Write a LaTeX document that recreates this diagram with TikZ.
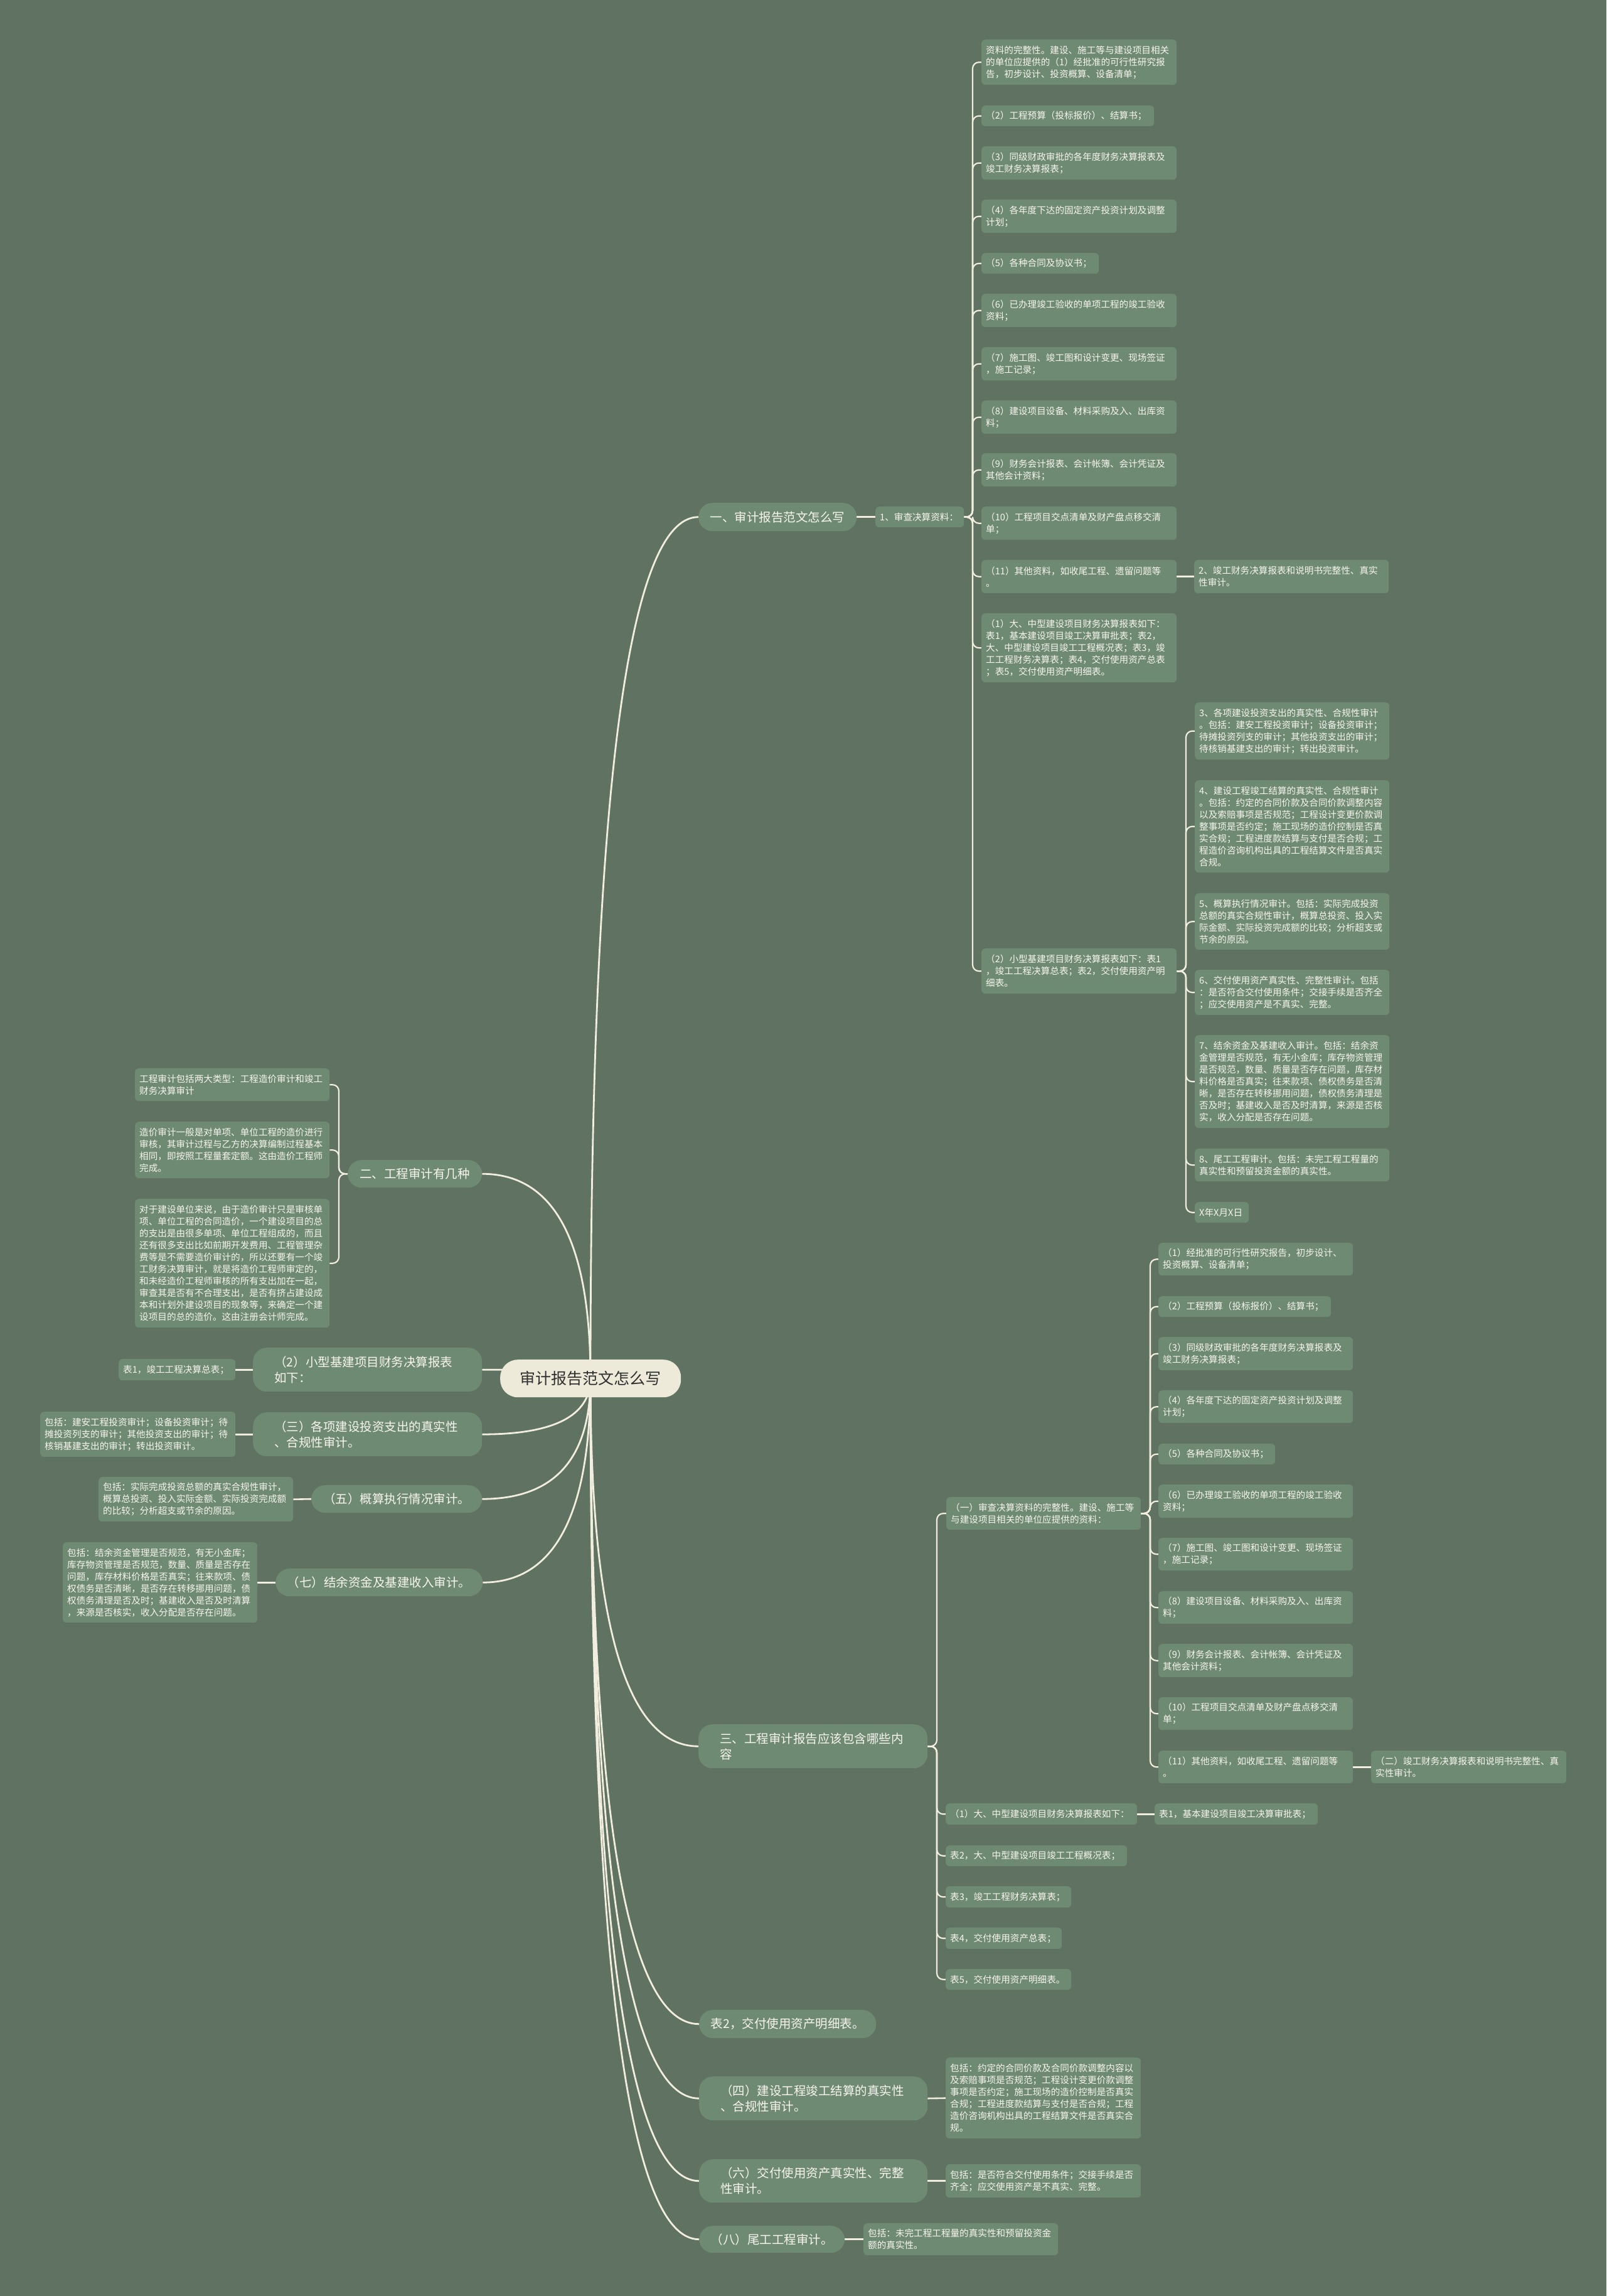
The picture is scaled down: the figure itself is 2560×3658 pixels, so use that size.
\documentclass[tikz,border=0pt]{standalone}
\usepackage{fontspec}
\newfontfamily\cjk{Noto Sans CJK SC}
\usetikzlibrary{calc}
\definecolor{bgc}{HTML}{607262}
\definecolor{ndc}{HTML}{6E8A73}
\definecolor{lnc}{HTML}{F1EEDF}
\definecolor{txc}{HTML}{F7F5EE}
\definecolor{rtc}{HTML}{EEEADA}
\definecolor{rtx}{HTML}{2F2F2F}
\pgfdeclarelayer{bglayer}
\pgfdeclarelayer{edgelayer}
\pgfsetlayers{bglayer,edgelayer,main}
\newcommand\fsS{\cjk\fontsize{14.6}{19}\selectfont}
\newcommand\fsB{\cjk\fontsize{19.5}{25}\selectfont}
\newcommand\fsR{\cjk\fontsize{25}{30}\selectfont}
\newcommand\rlink[1]{\draw[rootln] let \p1=(r0), \p2=(#1) in (\p1) .. controls (\x1,{\y1*0.3333+\y2*0.6667}) and ({\x2*0.3333+\x1*0.6667},\y2) .. (\p2);}
\newcommand\brR[3]{\draw[subln] (#1.east) -| (#2 |- #3.west) -- (#3.west);}
\newcommand\brL[3]{\draw[subln] (#1.west) -| (#2 |- #3.east) -- (#3.east);}
\tikzset{
  sm/.style={fill=ndc, text=txc, rounded corners=6pt, font=\fsS, align=left, inner xsep=7pt, inner ysep=0pt, anchor=north west},
  bigl/.style={fill=ndc, text=txc, rounded corners=22pt, font=\fsB, align=left, inner xsep=34pt, inner ysep=0pt, anchor=north west},
  bigc/.style={fill=ndc, text=txc, rounded corners=22pt, font=\fsB, align=center, inner sep=0pt, anchor=north west},
  rootn/.style={fill=rtc, text=rtx, rounded corners=28pt, font=\fsR, align=center, inner sep=0pt, anchor=north west},
  rootln/.style={draw=lnc, line width=2.8pt},
  subln/.style={draw=lnc, line width=2.2pt, rounded corners=10pt},
  stln/.style={draw=lnc, line width=2.6pt}
}
\begin{document}
\begin{tikzpicture}[x=1pt,y=-1pt]
\begin{pgfonlayer}{bglayer}
\fill[bgc] (0,0) rectangle (2560,3658);
\end{pgfonlayer}
\useasboundingbox (0,0) rectangle (2560,3658);

% root
\node[rootn, minimum width=288pt, minimum height=60pt] (root) at (797,2166) {审计报告范文怎么写};
\coordinate (r0) at (941,2196);

% branch one
\node[bigc, minimum width=252pt, minimum height=45pt] (n1) at (1113,801) {一、审计报告范文怎么写};
\node[sm, text width=127pt, minimum height=33pt] (s1) at (1395,807) {1、审查决算资料：};
\coordinate (sA) at (1550,0);
\node[sm, text width=297pt, minimum height=72pt] (A1) at (1564,63) {资料的完整性。建设、施工等与建设项目相关\\的单位应提供的（1）经批准的可行性研究报\\告，初步设计、投资概算、设备清单；};
\node[sm, text width=261pt, minimum height=33pt] (A2) at (1564,168) {（2）工程预算（投标报价）、结算书；};
\node[sm, text width=297pt, minimum height=53pt] (A3) at (1564,233) {（3）同级财政审批的各年度财务决算报表及\\竣工财务决算报表；};
\node[sm, text width=297pt, minimum height=53pt] (A4) at (1564,318) {（4）各年度下达的固定资产投资计划及调整\\计划；};
\node[sm, text width=173pt, minimum height=33pt] (A5) at (1564,403) {（5）各种合同及协议书；};
\node[sm, text width=297pt, minimum height=53pt] (A6) at (1564,468) {（6）已办理竣工验收的单项工程的竣工验收\\资料；};
\node[sm, text width=297pt, minimum height=53pt] (A7) at (1564,553) {（7）施工图、竣工图和设计变更、现场签证\\，施工记录；};
\node[sm, text width=297pt, minimum height=53pt] (A8) at (1564,638) {（8）建设项目设备、材料采购及入、出库资\\料；};
\node[sm, text width=297pt, minimum height=53pt] (A9) at (1564,722) {（9）财务会计报表、会计帐簿、会计凭证及\\其他会计资料；};
\node[sm, text width=297pt, minimum height=53pt] (A10) at (1564,807) {（10）工程项目交点清单及财产盘点移交清\\单；};
\node[sm, text width=297pt, minimum height=53pt] (A11) at (1564,892) {（11）其他资料，如收尾工程、遗留问题等\\。};
\node[sm, text width=296pt, minimum height=53pt] (A11b) at (1903,892) {2、竣工财务决算报表和说明书完整性、真实\\性审计。};
\node[sm, text width=297pt, minimum height=110pt] (A12) at (1564,977) {（1）大、中型建设项目财务决算报表如下：\\表1，基本建设项目竣工决算审批表；表2，\\大、中型建设项目竣工工程概况表；表3，竣\\工工程财务决算表；表4，交付使用资产总表\\；表5，交付使用资产明细表。};
\node[sm, text width=297pt, minimum height=72pt] (A13) at (1564,1511) {（2）小型基建项目财务决算报表如下：表1\\，竣工工程决算总表；表2，交付使用资产明\\细表。};
\coordinate (sB) at (1890,0);
\node[sm, text width=296pt, minimum height=91pt] (B3) at (1904,1119) {3、各项建设投资支出的真实性、合规性审计\\。包括：建安工程投资审计；设备投资审计；\\待摊投资列支的审计；其他投资支出的审计；\\待核销基建支出的审计；转出投资审计。};
\node[sm, text width=296pt, minimum height=147pt] (B4) at (1904,1243) {4、建设工程竣工结算的真实性、合规性审计\\。包括：约定的合同价款及合同价款调整内容\\以及索赔事项是否规范；工程设计变更价款调\\整事项是否约定；施工现场的造价控制是否真\\实合规；工程进度款结算与支付是否合规；工\\程造价咨询机构出具的工程结算文件是否真实\\合规。};
\node[sm, text width=296pt, minimum height=90pt] (B5) at (1904,1423) {5、概算执行情况审计。包括：实际完成投资\\总额的真实合规性审计，概算总投资、投入实\\际金额、实际投资完成额的比较；分析超支或\\节余的原因。};
\node[sm, text width=296pt, minimum height=72pt] (B6) at (1904,1545) {6、交付使用资产真实性、完整性审计。包括\\：是否符合交付使用条件；交接手续是否齐全\\；应交使用资产是不真实、完整。};
\node[sm, text width=296pt, minimum height=148pt] (B7) at (1904,1649) {7、结余资金及基建收入审计。包括：结余资\\金管理是否规范，有无小金库；库存物资管理\\是否规范，数量、质量是否存在问题，库存材\\料价格是否真实；往来款项、债权债务是否清\\晰，是否存在转移挪用问题，债权债务清理是\\否及时；基建收入是否及时清算，来源是否核\\实，收入分配是否存在问题。};
\node[sm, text width=296pt, minimum height=52pt] (B8) at (1904,1830) {8、尾工工程审计。包括：未完工程工程量的\\真实性和预留投资金额的真实性。};
\node[sm, text width=72pt, minimum height=33pt] (B9) at (1904,1915) {X年X月X日};

% branch two
\node[bigc, minimum width=214pt, minimum height=44pt] (n2) at (554,1848) {二、工程审计有几种};
\coordinate (sL) at (540,0);
\node[sm, text width=296pt, minimum height=52pt] (L1) at (215,1702) {工程审计包括两大类型：工程造价审计和竣工\\财务决算审计};
\node[sm, text width=296pt, minimum height=90pt] (L2) at (215,1787) {造价审计一般是对单项、单位工程的造价进行\\审核，其审计过程与乙方的决算编制过程基本\\相同，即按照工程量套定额。这由造价工程师\\完成。};
\node[sm, text width=296pt, minimum height=205pt] (L3) at (215,1910) {对于建设单位来说，由于造价审计只是审核单\\项、单位工程的合同造价，一个建设项目的总\\的支出是由很多单项、单位工程组成的，而且\\还有很多支出比如前期开发费用、工程管理杂\\费等是不需要造价审计的，所以还要有一个竣\\工财务决算审计，就是将造价工程师审定的，\\和未经造价工程师审核的所有支出加在一起，\\审查其是否有不合理支出，是否有挤占建设成\\本和计划外建设项目的现象等，来确定一个建\\设项目的总的造价。这由注册会计师完成。};

% left top-level
\node[bigl, text width=297pt, minimum height=70pt] (n22) at (403,2147) {（2）小型基建项目财务决算报表\\如下：};
\node[sm, text width=172pt, minimum height=34pt] (d22) at (189,2165) {表1，竣工工程决算总表；};
\node[bigl, text width=297pt, minimum height=70pt] (n23) at (403,2250) {（三）各项建设投资支出的真实性\\、合规性审计。};
\node[sm, text width=297pt, minimum height=72pt] (d23) at (64,2249) {包括：建安工程投资审计；设备投资审计；待\\摊投资列支的审计；其他投资支出的审计；待\\核销基建支出的审计；转出投资审计。};
\node[bigc, minimum width=272pt, minimum height=44pt] (n25) at (496,2366) {（五）概算执行情况审计。};
\node[sm, text width=296pt, minimum height=71pt] (d25) at (157,2353) {包括：实际完成投资总额的真实合规性审计，\\概算总投资、投入实际金额、实际投资完成额\\的比较；分析超支或节余的原因。};
\node[bigc, minimum width=330pt, minimum height=44pt] (n27) at (439,2499) {（七）结余资金及基建收入审计。};
\node[sm, text width=296pt, minimum height=128pt] (d27) at (100,2457) {包括：结余资金管理是否规范，有无小金库；\\库存物资管理是否规范，数量、质量是否存在\\问题，库存材料价格是否真实；往来款项、债\\权债务是否清晰，是否存在转移挪用问题，债\\权债务清理是否及时；基建收入是否及时清算\\，来源是否核实，收入分配是否存在问题。};

% branch three
\node[bigl, text width=297pt, minimum height=70pt] (n3) at (1113,2747) {三、工程审计报告应该包含哪些内\\容};
\coordinate (sT) at (1493,0);
\node[sm, text width=296pt, minimum height=52pt] (c0) at (1508,2385) {（一）审查决算资料的完整性。建设、施工等\\与建设项目相关的单位应提供的资料：};
\coordinate (sC) at (1833,0);
\node[sm, text width=296pt, minimum height=52pt] (C1) at (1846,1980) {（1）经批准的可行性研究报告，初步设计、\\投资概算、设备清单；};
\node[sm, text width=261pt, minimum height=33pt] (C2) at (1846,2065) {（2）工程预算（投标报价）、结算书；};
\node[sm, text width=296pt, minimum height=53pt] (C3) at (1846,2130) {（3）同级财政审批的各年度财务决算报表及\\竣工财务决算报表；};
\node[sm, text width=296pt, minimum height=52pt] (C4) at (1846,2215) {（4）各年度下达的固定资产投资计划及调整\\计划；};
\node[sm, text width=172pt, minimum height=33pt] (C5) at (1846,2300) {（5）各种合同及协议书；};
\node[sm, text width=296pt, minimum height=53pt] (C6) at (1846,2365) {（6）已办理竣工验收的单项工程的竣工验收\\资料；};
\node[sm, text width=296pt, minimum height=52pt] (C7) at (1846,2450) {（7）施工图、竣工图和设计变更、现场签证\\，施工记录；};
\node[sm, text width=296pt, minimum height=52pt] (C8) at (1846,2535) {（8）建设项目设备、材料采购及入、出库资\\料；};
\node[sm, text width=296pt, minimum height=53pt] (C9) at (1846,2619) {（9）财务会计报表、会计帐簿、会计凭证及\\其他会计资料；};
\node[sm, text width=296pt, minimum height=52pt] (C10) at (1846,2704) {（10）工程项目交点清单及财产盘点移交清\\单；};
\node[sm, text width=296pt, minimum height=52pt] (C11) at (1846,2789) {（11）其他资料，如收尾工程、遗留问题等\\。};
\node[sm, text width=297pt, minimum height=52pt] (C11b) at (2185,2789) {（二）竣工财务决算报表和说明书完整性、真\\实性审计。};
\node[sm, text width=291pt, minimum height=34pt] (D1) at (1507,2873) {（1）大、中型建设项目财务决算报表如下：};
\node[sm, text width=246pt, minimum height=34pt] (D1b) at (1840,2873) {表1，基本建设项目竣工决算审批表；};
\node[sm, text width=275pt, minimum height=33pt] (D2) at (1507,2940) {表2，大、中型建设项目竣工工程概况表；};
\node[sm, text width=186pt, minimum height=34pt] (D3) at (1507,3005) {表3，竣工工程财务决算表；};
\node[sm, text width=171pt, minimum height=34pt] (D4) at (1507,3071) {表4，交付使用资产总表；};
\node[sm, text width=186pt, minimum height=33pt] (D5) at (1507,3137) {表5，交付使用资产明细表。};

% right lower top-level
\node[bigc, minimum width=282pt, minimum height=45pt] (n4) at (1114,3202) {表2，交付使用资产明细表。};
\node[bigl, text width=296pt, minimum height=70pt] (n5) at (1114,3308) {（四）建设工程竣工结算的真实性\\、合规性审计。};
\node[sm, text width=297pt, minimum height=129pt] (d5) at (1507,3278) {包括：约定的合同价款及合同价款调整内容以\\及索赔事项是否规范；工程设计变更价款调整\\事项是否约定；施工现场的造价控制是否真实\\合规；工程进度款结算与支付是否合规；工程\\造价咨询机构出具的工程结算文件是否真实合\\规。};
\node[bigl, text width=296pt, minimum height=69pt] (n6) at (1114,3440) {（六）交付使用资产真实性、完整\\性审计。};
\node[sm, text width=297pt, minimum height=53pt] (d6) at (1507,3448) {包括：是否符合交付使用条件；交接手续是否\\齐全；应交使用资产是不真实、完整。};
\node[bigc, minimum width=232pt, minimum height=43pt] (n7) at (1114,3546) {（八）尾工工程审计。};
\node[sm, text width=296pt, minimum height=51pt] (d8) at (1376,3542) {包括：未完工程工程量的真实性和预留投资金\\额的真实性。};

\begin{pgfonlayer}{edgelayer}
% root links
\rlink{n1.west}
\rlink{n3.west}
\rlink{n4.west}
\rlink{n5.west}
\rlink{n6.west}
\rlink{n7.west}
\rlink{n2.east}
\rlink{n22.east}
\rlink{n23.east}
\rlink{n25.east}
\rlink{n27.east}
% branch one
\draw[stln] (n1.east) -- (s1.west);
\brR{s1}{sA}{A1}
\brR{s1}{sA}{A2}
\brR{s1}{sA}{A3}
\brR{s1}{sA}{A4}
\brR{s1}{sA}{A5}
\brR{s1}{sA}{A6}
\brR{s1}{sA}{A7}
\brR{s1}{sA}{A8}
\brR{s1}{sA}{A9}
\brR{s1}{sA}{A10}
\brR{s1}{sA}{A11}
\brR{s1}{sA}{A12}
\brR{s1}{sA}{A13}
\draw[stln] (A11.east) -- (A11b.west);
\brR{A13}{sB}{B3}
\brR{A13}{sB}{B4}
\brR{A13}{sB}{B5}
\brR{A13}{sB}{B6}
\brR{A13}{sB}{B7}
\brR{A13}{sB}{B8}
\brR{A13}{sB}{B9}
% branch two
\brL{n2}{sL}{L1}
\brL{n2}{sL}{L2}
\brL{n2}{sL}{L3}
% left details
\draw[stln] (n22.west) -- (d22.east);
\draw[stln] (n23.west) -- (d23.east);
\draw[stln] (n25.west) -- (d25.east);
\draw[stln] (n27.west) -- (d27.east);
% branch three
\brR{n3}{sT}{c0}
\brR{n3}{sT}{D1}
\brR{n3}{sT}{D2}
\brR{n3}{sT}{D3}
\brR{n3}{sT}{D4}
\brR{n3}{sT}{D5}
\brR{c0}{sC}{C1}
\brR{c0}{sC}{C2}
\brR{c0}{sC}{C3}
\brR{c0}{sC}{C4}
\brR{c0}{sC}{C5}
\brR{c0}{sC}{C6}
\brR{c0}{sC}{C7}
\brR{c0}{sC}{C8}
\brR{c0}{sC}{C9}
\brR{c0}{sC}{C10}
\brR{c0}{sC}{C11}
\draw[stln] (C11.east) -- (C11b.west);
\draw[stln] (D1.east) -- (D1b.west);
% right lower details
\draw[stln] (n5.east) -- (d5.west);
\draw[stln] (n6.east) -- (d6.west);
\draw[stln] (n7.east) -- (d8.west);
\end{pgfonlayer}
\end{tikzpicture}
\end{document}
